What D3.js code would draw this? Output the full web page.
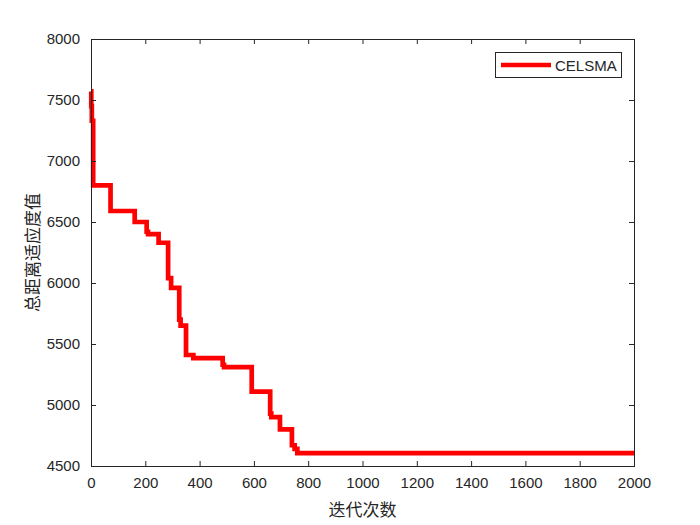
<!DOCTYPE html>
<html>
<head>
<meta charset="utf-8">
<script src="https://cdn.jsdelivr.net/npm/d3@7"></script>
<style>
  body { margin: 0; background: #fff; }
  svg { display: block; }
</style>
</head>
<body>
<svg id="chart"></svg>
<script>
// convergence curve (step changes only)
var iterations = [0, 1, 3, 8, 72, 161, 205, 210, 249, 284, 295, 325, 330, 350, 377, 485, 490, 592, 660, 664, 696, 740, 750, 760, 2000];
var fitness = [7570, 7450, 7330, 6800, 6590, 6500, 6420, 6400, 6330, 6040, 5960, 5700, 5650, 5410, 5385, 5330, 5310, 5110, 4930, 4900, 4800, 4670, 4640, 4605, 4605];
var seriesName = "CELSMA";
var xTicks = [0, 200, 400, 600, 800, 1000, 1200, 1400, 1600, 1800, 2000];
var yTicks = [4500, 5000, 5500, 6000, 6500, 7000, 7500, 8000];

var width = 700, height = 525;
// plot box (note: "top" is a reserved window property, so prefixed names)
var boxLeft = 91, boxRight = 634, boxTop = 39, boxBottom = 466;
var axisColor = "#262626";

var svg = d3.select("#chart")
    .attr("width", width)
    .attr("height", height);

svg.append("rect").attr("width", width).attr("height", height).attr("fill", "#fff");

var x = d3.scaleLinear().domain([0, 2000]).range([boxLeft, boxRight]);
var y = d3.scaleLinear().domain([4500, 8000]).range([boxBottom, boxTop]);

var points = iterations.map(function(d, i) { return [d, fitness[i]]; });

// curve
var line = d3.line()
    .x(function(d) { return x(d[0]); })
    .y(function(d) { return y(d[1]); })
    .curve(d3.curveStepAfter);

svg.append("path")
    .datum(points)
    .attr("d", line)
    .attr("fill", "none")
    .attr("stroke", "#ff0000")
    .attr("stroke-width", 4.7)
    .attr("stroke-linejoin", "miter");

// axes, ticks pointing inward, box on
function styleAxis(g) {
    g.select(".domain").remove();
    g.selectAll(".tick line").attr("stroke", axisColor);
    g.selectAll(".tick text")
        .attr("fill", axisColor)
        .style("font-family", "'Liberation Sans', Arial, sans-serif")
        .style("font-size", "15px");
}

var gx = svg.append("g")
    .attr("transform", "translate(0," + boxBottom + ")")
    .call(d3.axisBottom(x).tickValues(xTicks).tickFormat(d3.format("d")).tickSizeInner(-5).tickPadding(11));
styleAxis(gx);

var gxTop = svg.append("g")
    .attr("transform", "translate(0," + boxTop + ")")
    .call(d3.axisTop(x).tickValues(xTicks).tickFormat("").tickSizeInner(-5));
styleAxis(gxTop);

var gy = svg.append("g")
    .attr("transform", "translate(" + boxLeft + ",0)")
    .call(d3.axisLeft(y).tickValues(yTicks).tickFormat(d3.format("d")).tickSizeInner(-5).tickPadding(11));
styleAxis(gy);

var gyRight = svg.append("g")
    .attr("transform", "translate(" + boxRight + ",0)")
    .call(d3.axisRight(y).tickValues(yTicks).tickFormat("").tickSizeInner(-5));
styleAxis(gyRight);

svg.append("rect")
    .attr("x", boxLeft + 0.5)
    .attr("y", boxTop + 0.5)
    .attr("width", boxRight - boxLeft)
    .attr("height", boxBottom - boxTop)
    .attr("fill", "none")
    .attr("stroke", axisColor)
    .attr("stroke-width", 1);

// axis labels
svg.append("text")
    .attr("x", (boxLeft + boxRight) / 2)
    .attr("y", 516)
    .attr("text-anchor", "middle")
    .attr("fill", axisColor)
    .style("font-family", "'Noto Sans CJK SC', sans-serif")
    .style("font-size", "17px")
    .text("迭代次数");

svg.append("text")
    .attr("transform", "translate(39," + (boxTop + boxBottom) / 2 + ") rotate(-90)")
    .attr("text-anchor", "middle")
    .attr("fill", axisColor)
    .style("font-family", "'Noto Sans CJK SC', sans-serif")
    .style("font-size", "17px")
    .text("总距离适应度值");

// legend
var legend = svg.append("g");
legend.append("rect")
    .attr("x", 495.5)
    .attr("y", 52.5)
    .attr("width", 126)
    .attr("height", 25)
    .attr("fill", "#fff")
    .attr("stroke", axisColor)
    .attr("stroke-width", 1);
legend.append("line")
    .attr("x1", 501).attr("x2", 551)
    .attr("y1", 65).attr("y2", 65)
    .attr("stroke", "#ff0000")
    .attr("stroke-width", 4.7);
legend.append("text")
    .attr("x", 555)
    .attr("y", 70.5)
    .attr("fill", axisColor)
    .style("font-family", "'Liberation Sans', Arial, sans-serif")
    .style("font-size", "15px")
    .text(seriesName);
</script>
</body>
</html>
